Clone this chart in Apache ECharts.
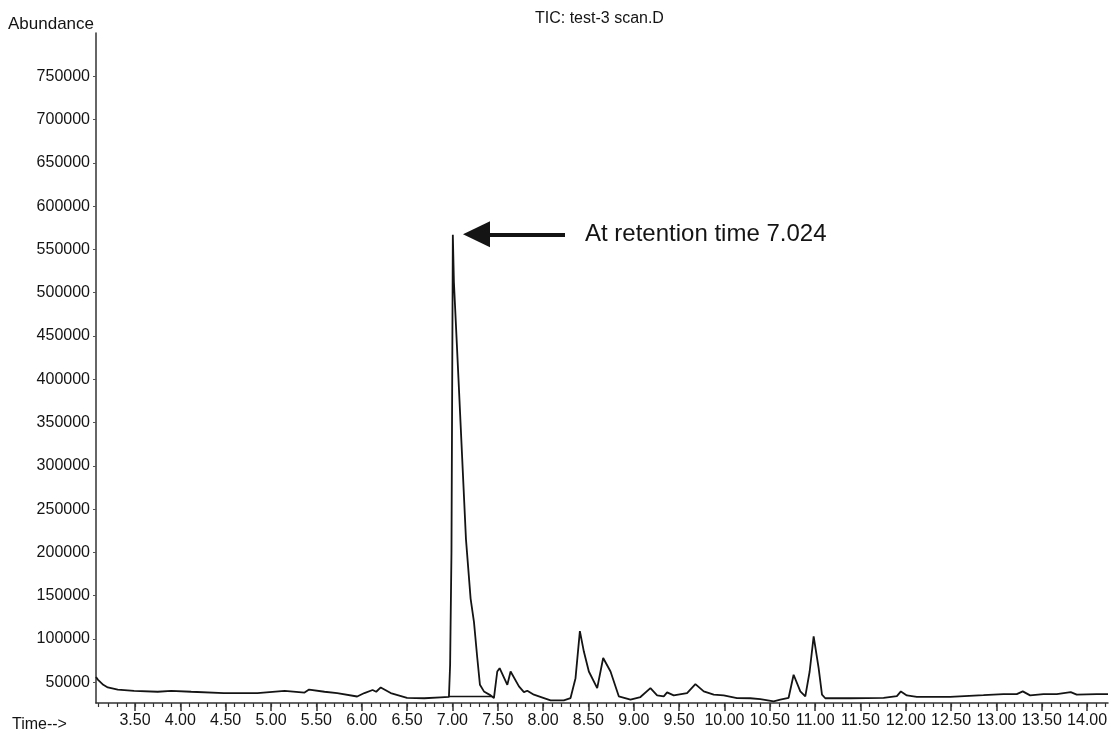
<!DOCTYPE html>
<html>
<head>
<meta charset="utf-8">
<script src="https://cdn.jsdelivr.net/npm/echarts@6/dist/echarts.min.js"></script>
<style>
  html, body { margin: 0; padding: 0; background: #fff; }
  #echarts { width: 1111px; height: 734px; }
</style>
</head>
<body>
<div id="echarts"></div>
<script>
var myChart = echarts.init(document.getElementById('echarts'));

// retention time (min) and abundance
var times = [3.07, 3.09, 3.15, 3.20, 3.31, 3.49, 3.75, 3.90, 4.12, 4.48,
    4.85, 5.15, 5.37, 5.42, 5.59, 5.73, 5.95, 6.03, 6.12, 6.16,
    6.21, 6.32, 6.50, 6.69, 6.87, 6.962, 6.975, 6.99, 7.005, 7.017,
    7.072, 7.15, 7.201, 7.238, 7.275, 7.304, 7.348, 7.422, 7.458, 7.495,
    7.521, 7.606, 7.642, 7.734, 7.789, 7.826, 7.899, 8.010, 8.083, 8.229,
    8.303, 8.358, 8.406, 8.450, 8.505, 8.597, 8.663, 8.744, 8.835, 8.964,
    9.074, 9.184, 9.258, 9.331, 9.368, 9.441, 9.588, 9.680, 9.772, 9.882,
    9.992, 10.139, 10.286, 10.396, 10.543, 10.616, 10.708, 10.763, 10.837, 10.892,
    10.94, 10.984, 11.039, 11.076, 11.112, 11.388, 11.755, 11.902, 11.946, 12.012,
    12.122, 12.489, 12.857, 13.077, 13.224, 13.290, 13.371, 13.518, 13.665, 13.819,
    13.885, 14.105, 14.23];
var abundance = [56000, 53000, 47000, 44000, 41500, 40000, 39000, 40000, 39000, 37500,
    37500, 40000, 38000, 41500, 39000, 37500, 33500, 37500, 41000, 39000,
    44000, 37500, 32000, 31500, 32500, 33000, 70000, 200000, 567000, 512000,
    390000, 215000, 146600, 119800, 77700, 47000, 39400, 34800, 31700, 62400,
    66200, 47000, 62400, 45200, 38600, 40200, 35600, 31700, 29100, 29100,
    31700, 54700, 109000, 85400, 62400, 43200, 78000, 62400, 33700, 29800,
    32900, 43200, 34800, 33700, 38300, 34800, 37500, 47800, 39400, 35600,
    34800, 31700, 31500, 30500, 28000, 30000, 32000, 58600, 39400, 33700,
    62400, 103000, 66200, 35600, 31500, 31500, 32000, 34000, 39400, 34800,
    33000, 33000, 35000, 36300, 36300, 39400, 34800, 36300, 36300, 38600,
    35600, 36300, 36300];

// integration baseline under the main peak
var baseTimes = [6.96, 7.44];
var baseValues = [33500, 33500];

var xTicks = [3.5, 4.0, 4.5, 5.0, 5.5, 6.0, 6.5, 7.0, 7.5, 8.0, 8.5, 9.0, 9.5,
    10.0, 10.5, 11.0, 11.5, 12.0, 12.5, 13.0, 13.5, 14.0];
var yTicks = [50000, 100000, 150000, 200000, 250000, 300000, 350000, 400000,
    450000, 500000, 550000, 600000, 650000, 700000, 750000];

var xMinorTicks = [];
for (var i = 31; i <= 142; i++) {
    xMinorTicks.push(i / 10);
}

var trace = times.map(function (t, i) { return [t, abundance[i]]; });
var baseLine = baseTimes.map(function (t, i) { return [t, baseValues[i]]; });

var font = 'Liberation Sans, Arial, sans-serif';
var ink = '#141414';

var option = {
    animation: false,
    title: {
        text: 'TIC: test-3 scan.D',
        left: 530,
        top: 6,
        textStyle: { fontFamily: font, fontSize: 16, fontWeight: 'normal', color: ink }
    },
    graphic: [{
        type: 'text',
        left: 8,
        top: 16,
        style: { text: 'Abundance', font: '17px ' + font, fill: ink }
    }, {
        type: 'text',
        left: 12,
        top: 717,
        style: { text: 'Time-->', font: '16px ' + font, fill: ink }
    }],
    grid: {
        left: 96,
        right: 3,
        top: 33,
        bottom: 31
    },
    xAxis: [{
        type: 'value',
        min: 3.07,
        max: 14.23,
        splitLine: { show: false },
        axisLine: { lineStyle: { color: '#333', width: 1.5 } },
        axisTick: {
            customValues: xTicks,
            length: 8,
            lineStyle: { color: '#333', width: 1.5 }
        },
        axisLabel: {
            customValues: xTicks,
            margin: 10,
            fontFamily: font,
            fontSize: 16,
            color: ink,
            formatter: function (v) { return v.toFixed(2); }
        }
    }, {
        type: 'value',
        position: 'bottom',
        min: 3.07,
        max: 14.23,
        splitLine: { show: false },
        axisLine: { show: false },
        axisTick: {
            customValues: xMinorTicks,
            length: 4,
            lineStyle: { color: '#333', width: 1.2 }
        },
        axisLabel: { show: false }
    }],
    yAxis: {
        type: 'value',
        min: 26000,
        max: 800000,
        splitLine: { show: false },
        axisLine: { show: true, lineStyle: { color: '#333', width: 1.5 } },
        axisTick: {
            show: true,
            customValues: yTicks,
            length: 3,
            lineStyle: { color: '#555' }
        },
        axisLabel: {
            customValues: yTicks,
            margin: 6,
            fontFamily: font,
            fontSize: 16,
            color: ink,
            formatter: function (v) { return String(v); }
        }
    },
    series: [{
        type: 'line',
        data: trace,
        showSymbol: false,
        lineStyle: { color: ink, width: 1.8 },
        markLine: {
            silent: true,
            symbol: ['triangle', 'none'],
            symbolSize: [26, 27],
            lineStyle: { color: ink, width: 4, type: 'solid' },
            label: {
                show: true,
                position: 'end',
                distance: 20,
                formatter: 'At retention time 7.024',
                fontFamily: font,
                fontSize: 24,
                color: ink
            },
            data: [[
                { coord: [7.266, 567400] },
                { coord: [8.242, 567400] }
            ]]
        }
    }, {
        type: 'line',
        data: baseLine,
        showSymbol: false,
        lineStyle: { color: ink, width: 1.4 }
    }]
};
myChart.setOption(option);
</script>
</body>
</html>
